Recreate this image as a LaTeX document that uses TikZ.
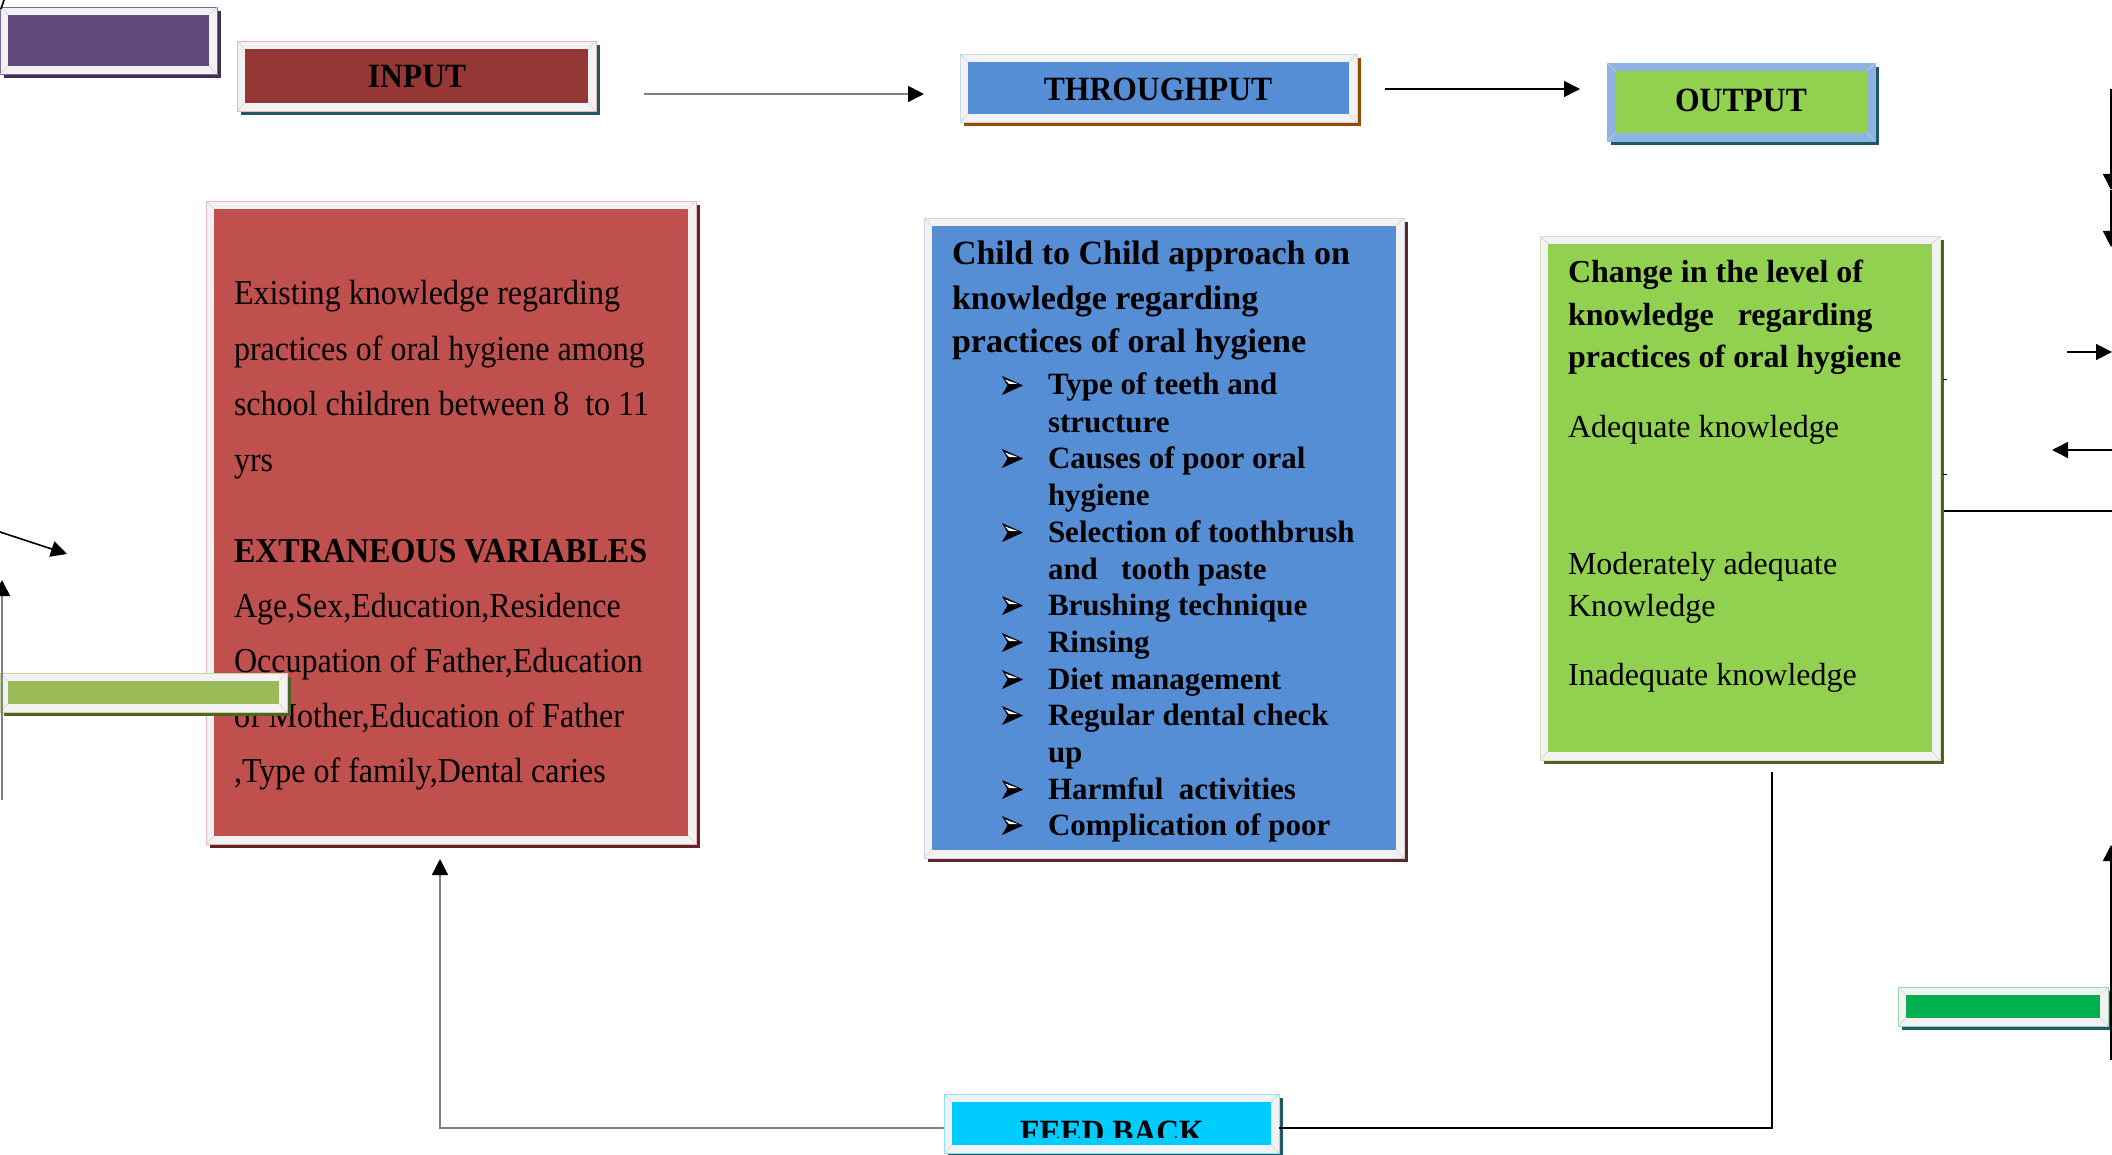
\documentclass[tikz,border=0pt]{standalone}
\usepackage{fontspec}
\setmainfont{Liberation Serif}
\newfontfamily\redfont[FakeStretch=0.915]{Liberation Serif}
\newfontfamily\labfont[FakeStretch=0.93]{Liberation Serif}
\usetikzlibrary{arrows.meta,fit,shadows}

\definecolor{framegray}{HTML}{F2F2F2}
\definecolor{purpfill}{HTML}{604A7B}
\definecolor{purpborder}{HTML}{8064A2}
\definecolor{purpshadow}{HTML}{3F3151}
\definecolor{inputfill}{HTML}{953735}
\definecolor{redfill}{HTML}{C0504D}
\definecolor{redborder}{HTML}{E6B9B8}
\definecolor{bluefill}{HTML}{558ED5}
\definecolor{blueborder}{HTML}{C6D9F1}
\definecolor{outframe}{HTML}{8DB3E2}
\definecolor{greenfill}{HTML}{92D050}
\definecolor{greenborder}{HTML}{D7E4BD}
\definecolor{lgfill}{HTML}{9BBB59}
\definecolor{lgborder}{HTML}{C3D69B}
\definecolor{cyanfill}{HTML}{00CCFF}
\definecolor{cyanborder}{HTML}{7FE5FF}
\definecolor{dgfill}{HTML}{00B050}
\definecolor{dgborder}{HTML}{92D7A8}
\definecolor{tealshadow}{HTML}{215868}
\definecolor{brownshadow}{HTML}{984807}
\definecolor{darkred}{HTML}{632523}
\definecolor{oliveshadow}{HTML}{4F6228}
\definecolor{diagcol}{HTML}{D0D0D0}

\newcommand\bevbox[9]{%
  \pgfmathsetmacro\bxa{#2+#6}\pgfmathsetmacro\bya{#3+#6}%
  \pgfmathsetmacro\bxb{#4-#6}\pgfmathsetmacro\byb{#5-#6}%
  \node[fit={(#2,#3)(#4,#5)}, inner sep=0pt, outer sep=0pt, #8, line width=0.8pt,
        general shadow={fill=#9, shadow xshift=4pt, shadow yshift=-4pt}] (#1) {};
  \node[fit={(\bxa,\bya)(\bxb,\byb)}, inner sep=0pt, outer sep=0pt, fill=#7] (#1-in) {};
  \draw[diagcol, line width=0.6pt] (#1.north west) -- (#1-in.north west)
    (#1.north east) -- (#1-in.north east)
    (#1.south west) -- (#1-in.south west)
    (#1.south east) -- (#1-in.south east);
}

\begin{document}
\begin{tikzpicture}[x=1pt,y=-1pt,
  txt/.style={inner sep=0pt, outer sep=0pt, anchor=base west},
  redtxt/.style={txt, font=\redfont\fontsize{35}{40}\selectfont},
  bluetitle/.style={txt, font=\bfseries\fontsize{34}{40}\selectfont},
  item/.style={txt, font=\bfseries\fontsize{31}{36}\selectfont},
  greentitle/.style={txt, font=\bfseries\fontsize{32}{40}\selectfont},
  greentxt/.style={txt, font=\fontsize{32}{40}\selectfont},
  lab/.style={inner sep=0pt, outer sep=0pt, anchor=base, font=\labfont\bfseries\fontsize{34}{40}\selectfont},
  conn/.style={line width=1.6pt, black},
  gconn/.style={line width=1.6pt, gray},
  tip/.style={-{Triangle[length=16pt,width=16pt,color=black]}},
  arrbul/.pic={
    \fill[black] (0,0) -- (5.5,-9.5) -- (0,-19) -- (21,-9.5) -- cycle;
    \fill[white] (3,-15.5) -- (7,-11) -- (15.5,-11) -- cycle;
  }
]
\useasboundingbox (0,0) rectangle (2112,1155);
\fill[white] (0,0) rectangle (2112,1155);
\clip (0,0) rectangle (2112,1155);

% header boxes
\bevbox{purp}{0}{7}{217}{74}{8}{purpfill}{draw=purpborder,fill=framegray}{purpshadow}
\bevbox{input}{237}{41}{596}{111}{8}{inputfill}{draw=redborder,fill=framegray}{tealshadow}
\bevbox{thru}{960}{54}{1357}{122}{8}{bluefill}{draw=blueborder,fill=framegray}{brownshadow}
\bevbox{out}{1607}{63}{1875}{141}{8}{greenfill}{draw=outframe,fill=outframe}{tealshadow}
\node[lab] (inputlab) at (417,88) {INPUT};
\node[lab] (thrulab) at (1158,101) {THROUGHPUT};
\node[lab] (outlab) at (1741,112) {OUTPUT};

% main boxes
\bevbox{redb}{206}{201}{696}{844}{8}{redfill}{draw=redborder,fill=framegray}{darkred}
\bevbox{blueb}{924}{218}{1404}{858}{8}{bluefill}{draw=blueborder,fill=framegray}{darkred}
\bevbox{greenb}{1540}{236}{1940}{760}{8}{greenfill}{draw=greenborder,fill=framegray}{oliveshadow}

% red box text
\node[redtxt] (r1) at (234,305) {Existing knowledge regarding};
\node[redtxt] (r2) at (234,361) {practices of oral hygiene among};
\node[redtxt] (r3) at (234,415) {school children between 8\ \ to 11};
\node[redtxt] (r4) at (234,471) {yrs};
\node[redtxt] (r5) at (234,562) {\bfseries EXTRANEOUS VARIABLES};
\node[redtxt] (r6) at (234,617) {Age,Sex,Education,Residence};
\node[redtxt] (r7) at (234,672) {Occupation of Father,Education};
\node[redtxt] (r8) at (234,727) {of Mother,Education of Father};
\node[redtxt] (r9) at (234,782) {,Type of family,Dental caries};

% blue box text
\begin{scope}
\clip (924,218) rectangle (1404,841);
\node[bluetitle] (b1) at (952,265) {Child to Child approach on};
\node[bluetitle] (b2) at (952,310) {knowledge regarding};
\node[bluetitle] (b3) at (952,353) {practices of oral hygiene};
\node[item] (i0) at (1048,395) {Type of teeth and};
\node[item] (i1) at (1048,432) {structure};
\node[item] (i2) at (1048,468) {Causes of poor oral};
\node[item] (i3) at (1048,505) {hygiene};
\node[item] (i4) at (1048,542) {Selection of toothbrush};
\node[item] (i5) at (1048,579) {and\ \ \ tooth paste};
\node[item] (i6) at (1048,615) {Brushing technique};
\node[item] (i7) at (1048,652) {Rinsing};
\node[item] (i8) at (1048,689) {Diet management};
\node[item] (i9) at (1048,725) {Regular dental check};
\node[item] (i10) at (1048,762) {up};
\node[item] (i11) at (1048,799) {Harmful\ \ activities};
\node[item] (i12) at (1048,835) {Complication of poor};
\pic (k0) at (1002,395) {arrbul};
\pic (k2) at (1002,468) {arrbul};
\pic (k4) at (1002,542) {arrbul};
\pic (k6) at (1002,615) {arrbul};
\pic (k7) at (1002,652) {arrbul};
\pic (k8) at (1002,689) {arrbul};
\pic (k9) at (1002,725) {arrbul};
\pic (k11) at (1002,799) {arrbul};
\pic (k12) at (1002,835) {arrbul};
\end{scope}

% green box text
\node[greentitle] (g1) at (1568,283) {Change in the level of};
\node[greentitle] (g2) at (1568,326) {knowledge\ \ \ regarding};
\node[greentitle] (g3) at (1568,368) {practices of oral hygiene};
\node[greentxt] (g4) at (1568,437) {Adequate knowledge};
\node[greentxt] (g5) at (1568,574) {Moderately adequate};
\node[greentxt] (g6) at (1568,616) {Knowledge};
\node[greentxt] (g7) at (1568,685) {Inadequate knowledge};

% bars
\bevbox{lgbar}{0}{673}{287}{712}{8}{lgfill}{draw=lgborder,fill=framegray}{oliveshadow}
\bevbox{dgbar}{1898}{987}{2108}{1026}{8}{dgfill}{draw=dgborder,fill=framegray}{tealshadow}
\bevbox{feed}{944}{1094}{1279}{1153}{8}{cyanfill}{draw=cyanborder,fill=framegray}{tealshadow}
\begin{scope}
\clip (944,1094) rectangle (1283,1137);
\node[lab] (feedlab) at (1112,1143) {FEED BACK};
\end{scope}

% connectors
\coordinate (a1s) at (644,94);
\coordinate (a1e) at (924,94);
\draw[gconn, tip] (a1s) -- (a1e);
\coordinate (a2s) at (1385,89);
\coordinate (a2e) at (1580,89);
\draw[conn, tip] (a2s) -- (a2e);

\coordinate (fbR) at (1772,1128);
\coordinate (fbRtop) at (1772,772);
\coordinate (fbL) at (440,1128);
\coordinate (fbLtop) at (440,859);
\draw[conn] (fbRtop) -- (fbR) -- (feed.east |- fbR);
\draw[gconn, tip] (feed.west |- fbL) -- (fbL) -- (fbLtop);

\coordinate (rtop) at (2111,89);
\coordinate (rd1) at (2111,190);
\coordinate (rd2) at (2111,247);
\draw[conn, tip] (rtop) -- (rd1);
\draw[conn, tip] (rd1) -- (rd2);
\coordinate (rr1) at (2067,352);
\coordinate (rr2) at (2112,352);
\draw[conn, tip] (rr1) -- (rr2);
\coordinate (rl1) at (2113,450);
\coordinate (rl2) at (2052,450);
\draw[conn, tip] (rl1) -- (rl2);
\coordinate (rh) at (2113,511);
\draw[conn] (greenb.east |- rh) ++(4,0) -- (rh);
\coordinate (t1) at (1943,380);
\coordinate (t2) at (1947,380);
\coordinate (t3) at (1943,474);
\coordinate (t4) at (1947,474);
\draw[black, line width=1pt] (t1) -- (t2) (t3) -- (t4);
\coordinate (rb1) at (2111,1060);
\coordinate (rb2) at (2111,845);
\draw[conn, tip] (rb1) -- (rb2);

\coordinate (ld1) at (0,532);
\coordinate (ld2) at (67,554);
\draw[conn, tip] (ld1) -- (ld2);
\coordinate (lu1) at (2,800);
\coordinate (lu2) at (2,580);
\draw[gconn, tip] (lu1) -- (lu2);
\coordinate (tl1) at (1,9);
\coordinate (tl2) at (4,0);
\draw[conn] (tl1) -- (tl2);
\end{tikzpicture}
\end{document}
